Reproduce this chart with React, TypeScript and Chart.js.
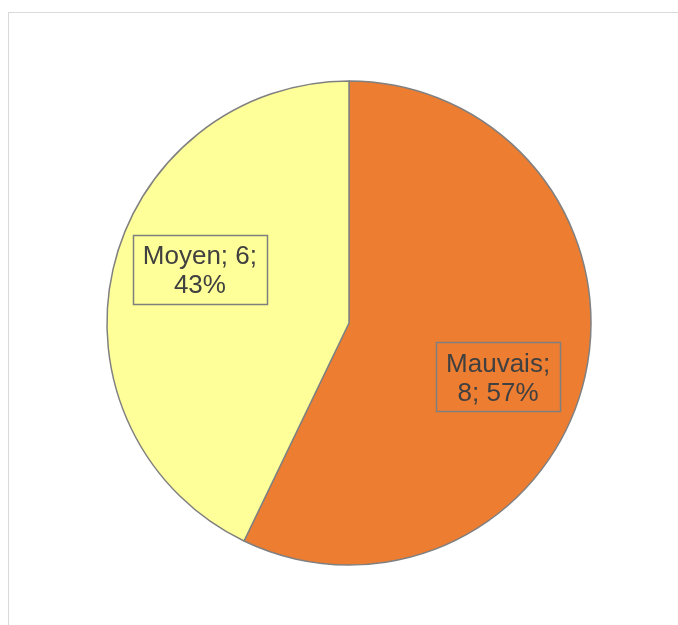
import React, { useEffect, useRef } from "react";
import { Chart, registerables } from "chart.js";

Chart.register(...registerables);

const categories = ["Mauvais", "Moyen"];
const values = [8, 6];
const colors = ["#ED7D31", "#FFFF99"];

const labelPlugin = {
  id: "boxLabels",
  afterDatasetsDraw(chart: any) {
    const ctx = chart.ctx;
    const meta = chart.getDatasetMeta(0);
    const total = values.reduce((a, b) => a + b, 0);
    ctx.save();
    ctx.font = "26px 'Liberation Sans', Arial, sans-serif";
    ctx.textAlign = "center";
    ctx.textBaseline = "middle";
    const lineH = 29;
    meta.data.forEach((arc: any, i: number) => {
      const { x, y, startAngle, endAngle, outerRadius } = arc.getProps(
        ["x", "y", "startAngle", "endAngle", "outerRadius"],
        true
      );
      const mid = (startAngle + endAngle) / 2 + (7 * Math.PI) / 180;
      const d = outerRadius * 0.655;
      const cx = x + Math.cos(mid) * d;
      const cy = y + Math.sin(mid) * d;
      const pct = Math.round((values[i] / total) * 100);
      const lines =
        i === 0
          ? [`${categories[i]};`, `${values[i]}; ${pct}%`]
          : [`${categories[i]}; ${values[i]};`, `${pct}%`];
      const w = Math.max(...lines.map((l) => ctx.measureText(l).width));
      const bw = w + 20;
      const bh = lines.length * lineH + 11;
      ctx.strokeStyle = "#7F7F7F";
      ctx.lineWidth = 1.5;
      ctx.strokeRect(Math.round(cx - bw / 2) + 0.5, Math.round(cy - bh / 2) + 0.5, Math.round(bw), Math.round(bh));
      ctx.fillStyle = "#404040";
      lines.forEach((l, k) => {
        ctx.fillText(l, cx, cy + 2 + (k - (lines.length - 1) / 2) * lineH);
      });
    });
    ctx.restore();
  },
};

export default function App() {
  const ref = useRef<HTMLCanvasElement>(null);
  useEffect(() => {
    if (!ref.current) return;
    const chart = new Chart(ref.current, {
      type: "pie",
      data: {
        labels: categories,
        datasets: [
          {
            data: values,
            backgroundColor: colors,
            borderColor: "#808080",
            borderWidth: 1.5,
          },
        ],
      },
      options: {
        responsive: false,
        animation: false,
        radius: 242,
        layout: { padding: 0 },
        plugins: {
          legend: { display: false },
          tooltip: { enabled: false },
        },
      } as any,
      plugins: [labelPlugin],
    });
    return () => chart.destroy();
  }, []);

  return (
    <div>
      <div
        style={{
          position: "fixed",
          left: 8,
          top: 12,
          width: 800,
          height: 800,
          border: "1px solid #D9D9D9",
          boxSizing: "border-box",
          background: "#fff",
        }}
      />
      <canvas
        ref={ref}
        width={500}
        height={500}
        style={{ position: "fixed", left: 99, top: 73, width: 500, height: 500 }}
      />
    </div>
  );
}
